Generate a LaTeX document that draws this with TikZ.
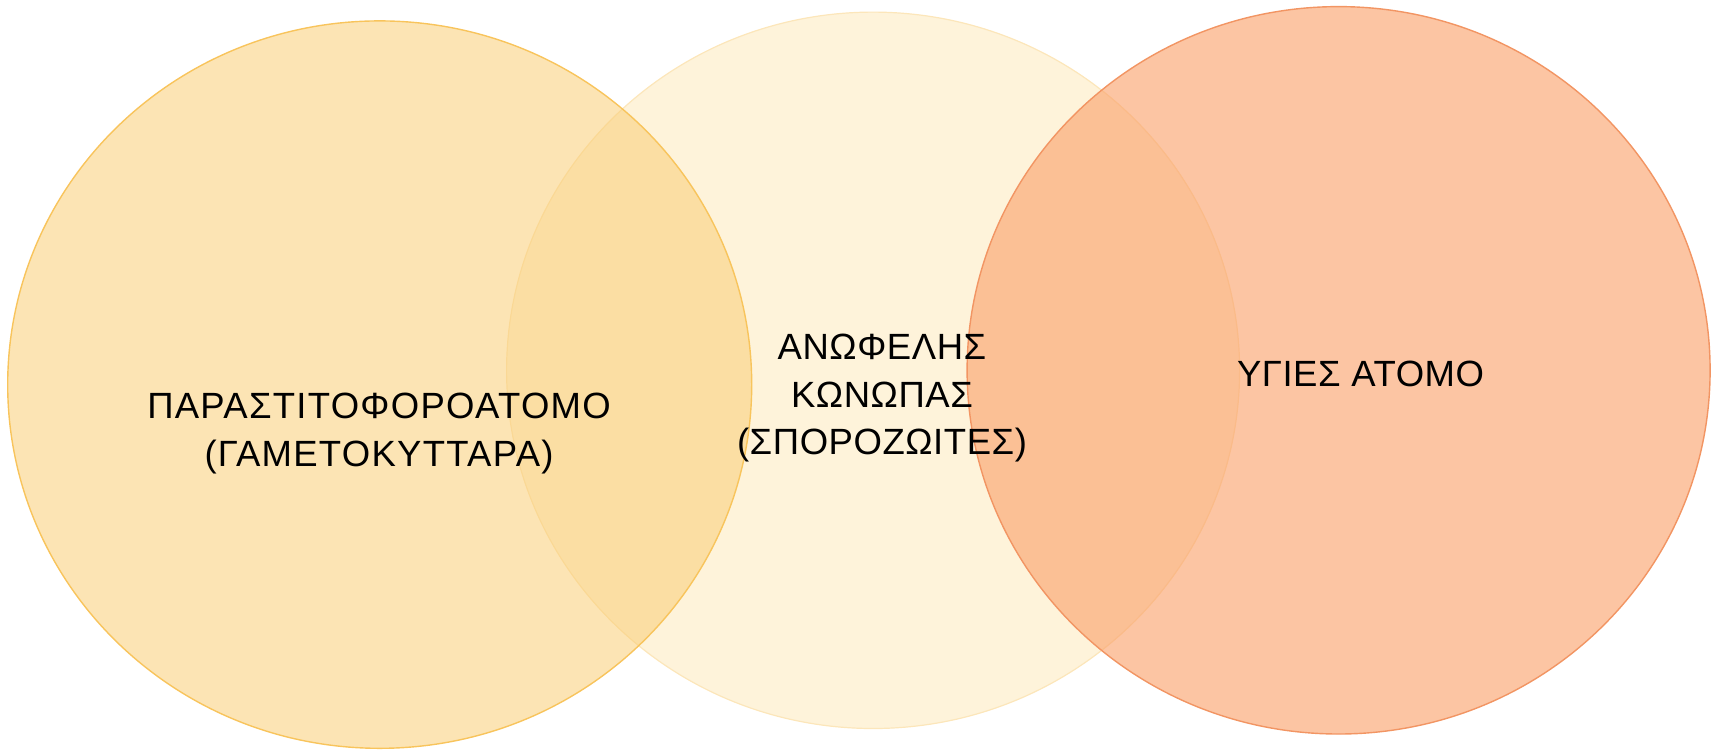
\documentclass[tikz,border=0pt]{standalone}
\usepackage{fontspec}
\setmainfont{Liberation Sans}
\newfontfamily\widegreek[LetterSpace=3.5]{Liberation Sans}
\newfontfamily\narrowgreek[LetterSpace=1.5]{Liberation Sans}
\usepackage{tikz}
\definecolor{mosqfill}{HTML}{FEF3DA}
\definecolor{mosqedge}{HTML}{FCE6BA}
\definecolor{carrierfill}{HTML}{FACE77}
\definecolor{carrieredge}{HTML}{F8C45C}
\definecolor{healthyfill}{HTML}{FAA16B}
\definecolor{healthyedge}{HTML}{F29563}

\begin{document}
\begin{tikzpicture}[x=0.5pt, y=-0.5pt]
	\tikzset{
		label/.style={align=center, inner sep=0pt, font=\narrowgreek\fontsize{18.25}{23.75}\selectfont},
		widelabel/.style={label, font=\widegreek\fontsize{18.25}{23.75}\selectfont},
	}
	\useasboundingbox (0,0) rectangle (1723,751);
	% centres of the three sets
	\coordinate (M) at (873.1,370.3);
	\coordinate (L) at (379.7,384.6);
	\coordinate (R) at (1338.6,370.3);
	% circles
	\filldraw[fill=mosqfill, draw=mosqedge, line width=0.6pt]
	(M) ellipse [x radius=366.5, y radius=358.2];
	\filldraw[fill=carrierfill, fill opacity=0.55, draw=carrieredge, line width=0.7pt]
	(L) ellipse [x radius=372, y radius=363.7];
	\filldraw[fill=healthyfill, fill opacity=0.62, draw=healthyedge, line width=0.7pt]
	(R) ellipse [x radius=371.5, y radius=363.7];
	% texts
	\node[widelabel] (carrier) at (379,433.4) {ΠΑΡΑΣΤΙΤΟΦΟΡΟΑΤΟΜΟ\\(ΓΑΜΕΤΟΚΥΤΤΑΡΑ)};
	\node[label] (mosquito) at (882,398.5) {ΑΝΩΦΕΛΗΣ\\ΚΩΝΩΠΑΣ\\(ΣΠΟΡΟΖΩΙΤΕΣ)};
	\node[label] (healthy) at (1360.5,373.5) {ΥΓΙΕΣ ΑΤΟΜΟ};
\end{tikzpicture}
\end{document}
